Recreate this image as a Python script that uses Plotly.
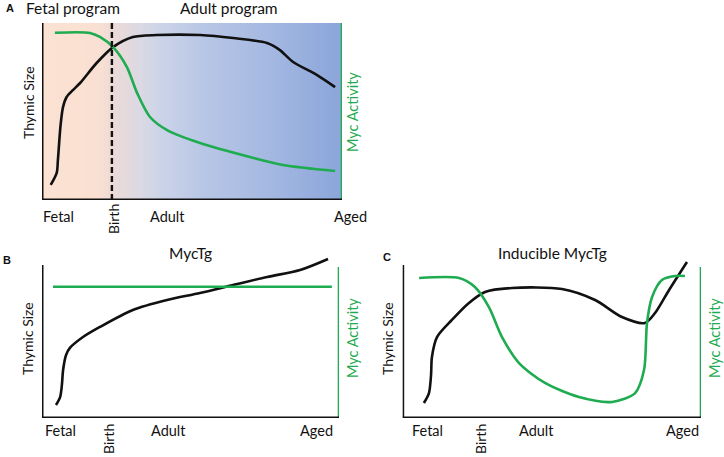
import numpy as np
import plotly.graph_objects as go

W, H = 724, 457

# ---------------- data (schematic, time 0..100, level 0..100) ----------------
a_size_x = [2.9, 4.9, 5.3, 6.2, 7.0, 8.2, 10.3, 12.7, 18.2, 23.7, 30.3, 38.3, 52.7, 63.7, 75.0, 79.3, 83.7, 91.7, 97.7]
a_size_y = [8.5, 15.3, 22.6, 42.4, 52.5, 58.2, 62.1, 66.1, 77.4, 86.4, 92.1, 93.2, 93.2, 91.5, 88.7, 84.7, 78.0, 70.6, 63.8]
a_myc_x = [4.3, 16.0, 19.3, 23.7, 28.3, 31.7, 36.0, 41.7, 52.7, 69.3, 80.3, 97.7]
a_myc_y = [94.5, 94.4, 92.1, 86.4, 75.1, 60.5, 46.9, 39.5, 32.2, 24.3, 19.8, 16.4]

b_size_x = [4.7, 6.1, 6.7, 7.1, 8.1, 9.4, 13.8, 19.5, 30.6, 42.1, 53.2, 64.3, 75.8, 86.9, 96.3]
b_size_y = [8.5, 13.7, 21.6, 31.4, 41.2, 45.8, 52.9, 59.5, 70.6, 77.1, 81.7, 86.9, 92.2, 96.7, 103.9]
b_myc_x = [3.7, 97.6]
b_myc_y = [85.8, 85.8]

c_size_x = [7.1, 8.8, 9.5, 9.8, 11.5, 16.5, 22.2, 27.6, 36.6, 53.4, 64.5, 73.5, 81.2, 84.6, 89.3, 95.3]
c_size_y = [9.8, 16.3, 28.1, 39.9, 52.9, 64.1, 75.2, 82.4, 85.0, 84.3, 77.1, 66.0, 62.1, 68.6, 83.7, 102.0]
c_myc_x = [5.5, 18.9, 24.2, 28.9, 33.3, 39.0, 47.7, 59.1, 70.2, 77.9, 80.9, 81.9, 83.6, 86.9, 91.3, 94.6]
c_myc_y = [91.5, 91.5, 85.6, 72.5, 52.9, 35.9, 22.9, 13.7, 10.5, 16.3, 31.4, 62.1, 79.1, 90.2, 92.8, 92.8]

birth_a = 23.3
tick_labels = ["Fetal", "Adult", "Aged"]

grad_pos = [0, 19, 24, 33, 40, 53, 80, 100]
grad_col = ["#fbe2d2", "#f9e0d2", "#ecdad7", "#dad9e4", "#cbd3e8", "#b9c7e6", "#a0b5e0", "#8ba5da"]

BLACK = "#111111"
GREEN = "#1fab50"
FONT = "Lato"

fig = go.Figure()

def px_x(p):
    return p / W

def px_y(p):
    return 1 - p / H

# axis domains (pixel boxes)
boxes = {
    "": dict(l=42, r=342, b=200, t=23, ymax=100),
    "2": dict(l=42, r=339, b=418, t=255, ymax=100 + 10 / 1.53),
    "3": dict(l=402.7, r=701, b=418, t=255, ymax=100 + 10 / 1.53),
}
for k, bx in boxes.items():
    fig.update_layout({
        f"xaxis{k}": dict(domain=[px_x(bx["l"]), px_x(bx["r"])], range=[0, 100], visible=False,
                          fixedrange=True, anchor=f"y{k}"),
        f"yaxis{k}": dict(domain=[px_y(bx["b"]), px_y(bx["t"])], range=[0, bx["ymax"]], visible=False,
                          fixedrange=True, anchor=f"x{k}"),
    })

# background gradient for panel A
edges = np.linspace(0, 100, 301)
centers = (edges[:-1] + edges[1:]) / 2
cs = [[p / 100, c] for p, c in zip(grad_pos, grad_col)]
fig.add_trace(go.Heatmap(x=edges, y=[0, 100], z=[centers], colorscale=cs, zmin=0, zmax=100,
                         showscale=False, hoverinfo="skip", xaxis="x", yaxis="y"))

def add_line(x, y, color, ax):
    fig.add_trace(go.Scatter(x=x, y=y, mode="lines", line=dict(color=color, width=2.6, shape="spline", smoothing=0.8),
                             xaxis=f"x{ax}", yaxis=f"y{ax}", showlegend=False, hoverinfo="skip"))

add_line(a_size_x, a_size_y, BLACK, "")
add_line(a_myc_x, a_myc_y, GREEN, "")
add_line(b_size_x, b_size_y, BLACK, "2")
add_line(b_myc_x, b_myc_y, GREEN, "2")
add_line(c_size_x, c_size_y, BLACK, "3")
add_line(c_myc_x, c_myc_y, GREEN, "3")

shapes = []
# dashed birth line
shapes.append(dict(type="line", xref="x", yref="y", x0=birth_a, x1=birth_a, y0=0, y1=100,
                   line=dict(color=BLACK, width=2.4, dash="6px,3px")))
for k, rtop in [("", 100), ("2", 98.7), ("3", 98.7)]:
    xr, yr = f"x{k}", f"y{k}"
    shapes.append(dict(type="line", xref=xr, yref=yr, x0=100, x1=100, y0=0, y1=rtop,
                       line=dict(color=GREEN, width=2.6)))
    shapes.append(dict(type="line", xref=xr, yref=yr, x0=0, x1=0, y0=0, y1=100,
                       line=dict(color=BLACK, width=3)))
    shapes.append(dict(type="line", xref=xr, yref=yr, x0=0, x1=100, y0=0, y1=0,
                       line=dict(color=BLACK, width=3)))
fig.update_layout(shapes=shapes)

ann = []

def text(t, x, y, size=14, color=BLACK, angle=0, bold=False, family=FONT):
    ann.append(dict(text=f"<b>{t}</b>" if bold else t, x=px_x(x), y=px_y(y), xref="paper", yref="paper",
                    showarrow=False, textangle=angle, xanchor="center", yanchor="middle", borderpad=0,
                    font=dict(size=size, color=color, family=family)))

text("A", 10, 8, 11, bold=True, family="Liberation Sans")
text("Fetal program", 73, 8, 15.5)
text("Adult program", 229, 8, 15.5)
text("Thymic Size", 28, 103, 14, angle=-90)
text("Myc Activity", 353, 112, 14.5, GREEN, angle=-90)
for t, xx in zip(tick_labels, [58, 167, 350]):
    text(t, xx, 217, 14.5)
text("Birth", 113, 219, 14, angle=-90)

text("B", 7, 260, 11, bold=True, family="Liberation Sans")
text("MycTg", 190, 253, 15.5)
text("Thymic Size", 27, 339, 14, angle=-90)
text("Myc Activity", 352, 338, 14.5, GREEN, angle=-90)
for t, xx in zip(tick_labels, [60, 168, 316]):
    text(t, xx, 430, 14.5)
text("Birth", 108, 439, 14, angle=-90)

text("C", 387, 257, 11, bold=True, family="Liberation Sans")
text("Inducible MycTg", 552, 253, 15.5)
text("Thymic Size", 387, 339, 14, angle=-90)
text("Myc Activity", 714, 338, 14.5, GREEN, angle=-90)
for t, xx in zip(tick_labels, [427, 536, 682]):
    text(t, xx, 430, 14.5)
text("Birth", 480, 439, 14, angle=-90)

fig.update_layout(annotations=ann, width=W, height=H, margin=dict(l=0, r=0, t=0, b=0),
                  paper_bgcolor="white", plot_bgcolor="rgba(0,0,0,0)", showlegend=False)

fig.write_html("out.html", config={"displayModeBar": False},
               post_script="document.body.style.margin='0';document.body.style.overflow='hidden';")
